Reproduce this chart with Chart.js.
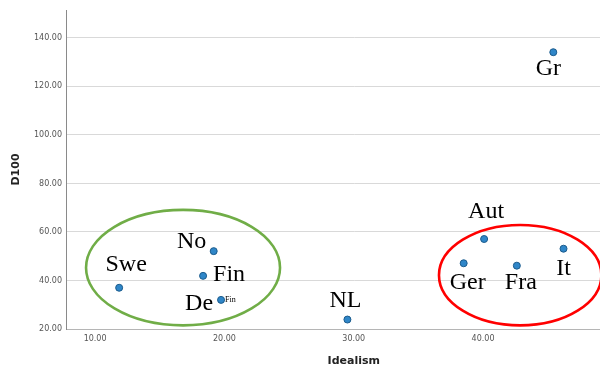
<!DOCTYPE html>
<html>
<head>
<meta charset="utf-8">
<script src="https://cdn.jsdelivr.net/npm/chart.js@4"></script>
<style>
html,body{margin:0;padding:0;background:#fff;overflow:hidden;width:600px;height:368px;}
#wrap{position:absolute;left:0;top:0;width:646px;height:368px;}
</style>
</head>
<body>
<div id="wrap"><canvas id="c" width="646" height="368"></canvas></div>
<script>
// ---- data ----
const countries = ["Swe", "No", "Fin", "De", "NL", "Aut", "Ger", "Fra", "It", "Gr"];
const idealism  = [11.86, 19.17, 18.35, 19.74, 29.51, 40.08, 38.50, 42.61, 46.22, 45.43];
const d100      = [37.0, 52.1, 41.9, 32.0, 23.9, 57.1, 47.1, 46.1, 53.1, 134.1];
const xTicks = [10, 20, 30, 40, 50];
const yTicks = [20, 40, 60, 80, 100, 120, 140];
// groups circled in the picture: centre and radii in data units
const groupNames = ["Nordic", "Continental"];
const groupCx = [16.80, 42.87];
const groupCy = [45.3, 42.2];
const groupRx = [7.50, 6.28];
const groupRy = [23.8, 20.7];
const groupColors = ["#70ad47", "#ff0000"];

// label offsets (pixels, relative to point) for annotation text
const labelDx = [7, -22, 26, -22, -2, 2, 4, 4, 0, -5];
const labelDy = [-17, -3, 5, 10, -13, -21, 26, 23, 26, 23];

const pts = idealism.map((x, i) => ({x: x, y: d100[i]}));

const annot = {
  id: 'annot',
  afterDatasetsDraw(chart) {
    const {ctx, scales: {x, y}} = chart;
    ctx.save();
    for (let g = 0; g < groupNames.length; g++) {
      const cx = x.getPixelForValue(groupCx[g]);
      const cy = y.getPixelForValue(groupCy[g]);
      const rx = Math.abs(x.getPixelForValue(groupCx[g] + groupRx[g]) - cx);
      const ry = Math.abs(y.getPixelForValue(groupCy[g] + groupRy[g]) - cy);
      ctx.beginPath();
      ctx.ellipse(cx, cy, rx, ry, 0, 0, Math.PI * 2);
      ctx.strokeStyle = groupColors[g];
      ctx.lineWidth = 2.6;
      ctx.stroke();
    }
    ctx.fillStyle = '#000';
    ctx.textAlign = 'center';
    ctx.textBaseline = 'alphabetic';
    ctx.font = '24px "Liberation Serif", "Times New Roman", serif';
    countries.forEach((c, i) => {
      const px = x.getPixelForValue(idealism[i]);
      const py = y.getPixelForValue(d100[i]);
      ctx.fillText(c, px + labelDx[i], py + labelDy[i]);
    });
    const iDe = countries.indexOf("De");
    ctx.font = '8px "Liberation Serif", serif';
    ctx.textAlign = 'left';
    ctx.fillText("Fin", x.getPixelForValue(idealism[iDe]) + 4, y.getPixelForValue(d100[iDe]) + 2);
    ctx.restore();
  }
};

new Chart(document.getElementById('c'), {
  type: 'scatter',
  data: {
    datasets: [{
      data: pts,
      backgroundColor: '#2f86c8',
      borderColor: '#1b5b8c',
      borderWidth: 1,
      pointRadius: 3.5,
      pointHoverRadius: 3.5
    }]
  },
  options: {
    responsive: false,
    animation: false,
    events: [],
    layout: {padding: {top: 10, right: 0, left: 0, bottom: 0}},
    plugins: {legend: {display: false}, tooltip: {enabled: false}},
    scales: {
      x: {
        type: 'linear',
        min: 7.75, max: 52.25,
        afterBuildTicks: s => { s.ticks = xTicks.map(v => ({value: v})); },
        afterFit: s => { s.height = 39; },
        grid: {display: true, drawOnChartArea: false, drawTicks: false, color: '#bbbbbb'},
        border: {display: true, color: '#b5b5b5', width: 1},
        ticks: {
          padding: 5,
          color: '#555',
          font: {family: '"DejaVu Sans", sans-serif', size: 8},
          maxRotation: 0,
          callback: v => Number(v).toFixed(2)
        },
        title: {
          display: true, text: 'Idealism', color: '#222',
          font: {family: '"DejaVu Sans", sans-serif', size: 11, weight: 'bold'},
          padding: {top: 8, bottom: 0}
        }
      },
      y: {
        type: 'linear',
        min: 20, max: 151.5,
        afterBuildTicks: s => { s.ticks = yTicks.map(v => ({value: v})); },
        afterFit: s => { s.width = 66; },
        grid: {display: true, drawTicks: false, color: '#d9d9d9', lineWidth: 1},
        border: {display: true, color: '#8a8a8a', width: 1},
        ticks: {
          padding: 4,
          color: '#555',
          font: {family: '"DejaVu Sans", sans-serif', size: 8},
          callback: v => Number(v).toFixed(2)
        },
        title: {
          display: true, text: 'D100', color: '#222',
          font: {family: '"DejaVu Sans", sans-serif', size: 11, weight: 'bold'},
          padding: {top: 10, bottom: 0}
        }
      }
    }
  },
  plugins: [annot]
});
</script>
</body>
</html>
